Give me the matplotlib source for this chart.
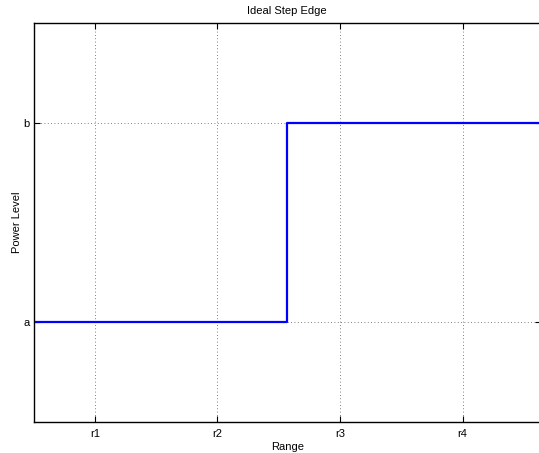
import matplotlib
matplotlib.use('Agg')
import matplotlib.pyplot as plt

plt.rcParams['font.family'] = ['Liberation Sans', 'DejaVu Sans']

# data
x_pts = [0.5, 2.57, 4.64]
y_pts = [1, 2, 2]
x_ticks = [1, 2, 3, 4]
x_labels = ['r1', 'r2', 'r3', 'r4']
y_ticks = [1, 2]
y_labels = ['a', 'b']

fig = plt.figure(figsize=(5.39, 4.53), dpi=100)
ax = fig.add_axes([33.5 / 539, (453 - 422.3) / 453, (541 - 33.5) / 539, (422.3 - 22.7) / 453])

ax.step(x_pts, y_pts, where='post', color='#0000ff', linewidth=1.6)

ax.set_xlim(0.5, 4.64)
ax.set_ylim(0.5, 2.5)
ax.set_xticks(x_ticks)
ax.set_xticklabels(x_labels)
ax.set_yticks(y_ticks)
ax.set_yticklabels(y_labels)
ax.tick_params(direction='in', top=True, right=True, length=4, width=0.8, labelsize=8)
ax.tick_params(axis='x', pad=5)
ax.tick_params(axis='y', pad=3)
ax.grid(True, linestyle=(0, (1, 3)), color='#555555', linewidth=0.6)
for s in ax.spines.values():
    s.set_linewidth(1.0)

ax.set_title('Ideal Step Edge', fontsize=8, pad=6)
ax.set_xlabel('Range', fontsize=8, labelpad=2)
ax.set_ylabel('Power Level', fontsize=8, labelpad=1)

fig.savefig('out.png', dpi=100)
